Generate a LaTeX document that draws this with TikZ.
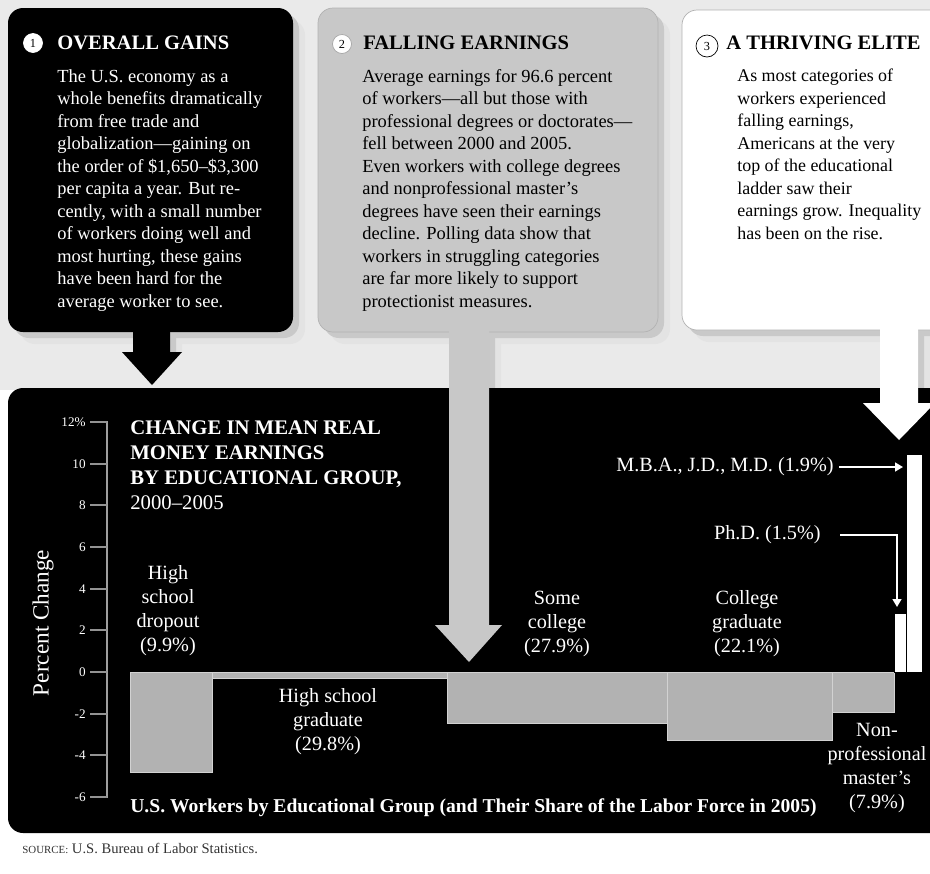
\documentclass[tikz,border=0pt]{standalone}
\usepackage{fontspec}
\setmainfont{Liberation Serif}
\usetikzlibrary{arrows.meta}

\definecolor{dotbg}{RGB}{234,234,234}
\definecolor{panelgray}{RGB}{200,200,200}
\definecolor{bargray}{RGB}{178,178,178}

\begin{document}
\begin{tikzpicture}[x=0.02cm,y=-0.02cm,
        body/.style={anchor=north west, align=left, inner sep=0pt,
                        font=\fontsize{10.5}{12.8}\selectfont},
        head/.style={anchor=base west, inner sep=0pt,
                        font=\fontsize{11.7}{13}\selectfont\bfseries},
        num/.style={circle, draw, inner sep=0pt, minimum size=0.38cm,
                        font=\fontsize{7}{8}\selectfont},
        lab/.style={align=center, inner sep=0pt, text=white,
                        font=\fontsize{11.5}{13.7}\selectfont},
        ticklab/.style={anchor=east, inner sep=0pt, text=white,
                        font=\fontsize{7.5}{9}\selectfont},
        bar/.style={fill=bargray, draw=gray!35, line width=0.4pt},
        topbar/.style={fill=white, draw=black, line width=0.5pt},
        pointer/.style={white, line width=1pt,
                        -{Triangle[length=4.5pt,width=5pt]}}]
            \clip (0,0) rectangle (930,873);
            \fill[white] (0,0) rectangle (930,873);
            \fill[dotbg] (0,0) rectangle (930,390);

            % soft shadows under the three boxes
            \foreach \d/\c in {12/22, 6/42}{
                \fill[gray!\c, rounded corners=0.3cm, shift={(\d,\d)}]
                    (8,8) rectangle (293,332)
                    (318,8) rectangle (658,332)
                    (682,10) rectangle (945,330);
                \fill[gray!\c, shift={(\d,0)}]
                    (133,325) rectangle (170,352)
                    (449,325) rectangle (489,390)
                    (880,325) rectangle (918,390);
            }

            % chart panel
            \fill[black, rounded corners=0.3cm] (8,388) rectangle (945,833);

            % boxes
            \fill[black, rounded corners=0.3cm] (8,8) rectangle (293,332);
            \filldraw[fill=panelgray, draw=gray!60, line width=0.4pt,
                rounded corners=0.3cm] (318,8) rectangle (658,332);
            \filldraw[fill=white, draw=gray!60, line width=0.4pt,
                rounded corners=0.3cm] (682,10) rectangle (945,330);

            % block arrows
            \fill[black] (133,325) -- (170,325) -- (170,352) -- (182,352)
                -- (152,385) -- (122,352) -- (133,352) -- cycle;
            \fill[panelgray] (449,325) -- (489,325) -- (489,625) -- (502,625)
                -- (469,662) -- (435,625) -- (449,625) -- cycle;
            \fill[white] (880,325) -- (918,325) -- (918,403) -- (935,403)
                -- (899,440) -- (863,403) -- (880,403) -- cycle;

            % box texts
            \node[num, fill=white, draw=white] (n1) at (33,43) {1};
            \node[head, text=white] (gainshead) at (57,49) {OVERALL GAINS};
            \node[body, text=white] (gainsbody) at (57,69)
                {The U.S. economy as a\\whole benefits dramatically\\
                from free trade and\\globalization---gaining on\\
                the order of \$1,650--\$3,300\\per capita a year. But re-\\
                cently, with a small number\\of workers doing well and\\
                most hurting, these gains\\have been hard for the\\
                average worker to see.};

            \node[num, fill=white, draw=gray!70] (n2) at (342,44) {2};
            \node[head] (fallhead) at (363,49) {FALLING EARNINGS};
            \node[body] (fallbody) at (362,69)
                {Average earnings for 96.6 percent\\of workers---all but those with\\
                professional degrees or doctorates---\\fell between 2000 and 2005.\\
                Even workers with college degrees\\and nonprofessional master's\\
                degrees have seen their earnings\\decline. Polling data show that\\
                workers in struggling categories\\are far more likely to support\\
                protectionist measures.};

            \node[num, fill=white, draw=black, minimum size=0.44cm] (n3) at (707,46) {3};
            \node[head] (elitehead) at (726,49) {A THRIVING ELITE};
            \node[body, font=\fontsize{10.2}{12.8}\selectfont] (elitebody) at (737,69)
                {As most categories of\\workers experienced\\falling earnings,\\
                Americans at the very\\top of the educational\\ladder saw their\\
                earnings grow. Inequality\\has been on the rise.};

            % axis
            \draw[gray!75, line width=1.1pt] (107,421) -- (107,798);
            \foreach \v/\t [count=\i] in {12/12\%,10/10,8/8,6/6,4/4,2/2,0/0,
                                        -2/-2,-4/-4,-6/-6}{
                \draw[gray!85, line width=1.1pt]
                    (90,{672-20.83*\v}) -- (107,{672-20.83*\v});
                \node[ticklab] (tk\i) at (86,{672-20.83*\v}) {\t};
            }
            \node[lab, rotate=90, font=\fontsize{13.2}{15}\selectfont]
                (ylab) at (43,623) {Percent Change};

            \node[anchor=north west, align=left, inner sep=0pt, text=white,
                font=\fontsize{11.8}{14.4}\selectfont\bfseries] (ttl) at (130,420)
                {CHANGE IN MEAN REAL\\MONEY EARNINGS\\BY EDUCATIONAL GROUP,\\
                {\mdseries 2000--2005}};

            % bars
            \draw[bar] (130,672) rectangle (212,772)
                (212,672) rectangle (447,678)
                (447,672) rectangle (667,723)
                (667,672) rectangle (832,740)
                (832,672) rectangle (894,712);
            \draw[topbar] (894,613) rectangle (906,672)
                (906,454) rectangle (922,672);

            % bar labels
            \node[lab] (dropout) at (168,611) {High\\school\\dropout\\(9.9\%)};
            \node[lab] (hsgrad) at (328,722) {High school\\graduate\\(29.8\%)};
            \node[lab] (somecol) at (557,624) {Some\\college\\(27.9\%)};
            \node[lab] (colgrad) at (747,624) {College\\graduate\\(22.1\%)};
            \node[lab] (master) at (877,768)
                {Non-\\professional\\master's\\(7.9\%)};

            \node[lab, anchor=east] (mba) at (834,467) {M.B.A., J.D., M.D. (1.9\%)};
            \node[lab, anchor=east] (phd) at (821,535) {Ph.D. (1.5\%)};
            \coordinate (mbatip) at (903,467);
            \coordinate (phdtip) at (897,607);
            \draw[pointer, shorten <=3pt] (mba) -- (mbatip);
            \draw[pointer, shorten <=11pt] (phd) -| (phdtip);

            \node[anchor=base west, inner sep=0pt, text=white,
                font=\fontsize{11.15}{13}\selectfont\bfseries] (xlab) at (130,812)
                {U.S. Workers by Educational Group (and Their Share of the Labor Force in 2005)};

            \node[anchor=base west, inner sep=0pt, text=black!80,
                font=\fontsize{8.3}{9}\selectfont] (src) at (22,853)
                {{\fontsize{6.2}{7}\selectfont SOURCE:} U.S. Bureau of Labor Statistics.};
        \end{tikzpicture}
\end{document}
